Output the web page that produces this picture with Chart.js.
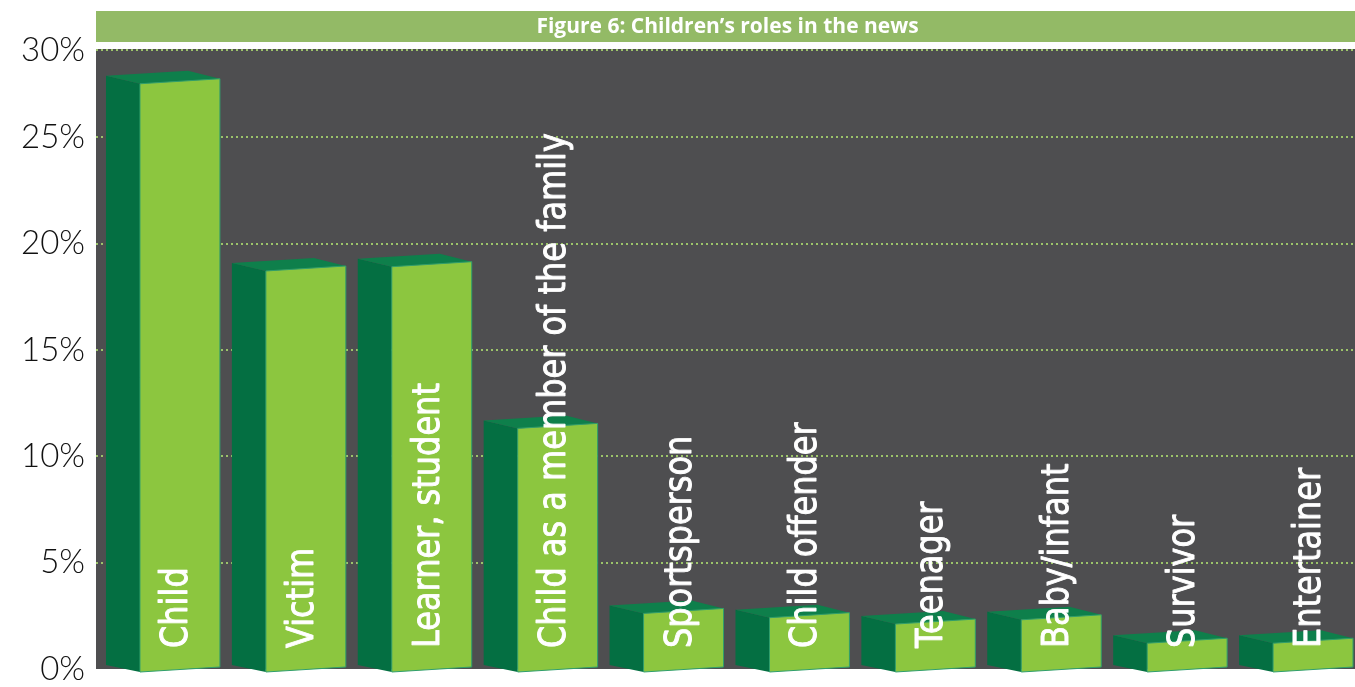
<!DOCTYPE html>
<html lang="en">
<head>
    <meta charset="UTF-8">
    <title>Children's roles in the news</title>
    <style>
        html, body {
            margin: 0;
            padding: 0;
            background: #fff;
        }
        .container {
            position: relative;
            width: 1355px;
            height: 687px;
        }
    </style>
</head>
<body>
    <div class="container">
        <canvas id="roles-chart"></canvas>
    </div>
    <script src="https://cdn.jsdelivr.net/npm/chart.js"></script>

    <script>
        // ROLES DATA (share of stories, %)

        const roleLabels = [
            "Child",
            "Victim",
            "Learner, student",
            "Child as a member of the family",
            "Sportsperson",
            "Child offender",
            "Teenager",
            "Baby/infant",
            "Survivor",
            "Entertainer",
        ]

        const roleShares = [27.7, 18.9, 19.1, 11.5, 2.8, 2.6, 2.3, 2.5, 1.4, 1.4]

        // y axis: the top line of the panel carries the 30% label
        const tickValues = [0, 5, 10, 15, 20, 25, 29.1]
        const tickLabels = ["0%", "5%", "10%", "15%", "20%", "25%", "30%"]
        const axisMax = 29.1

        const chartTitle = "Figure 6: Children\u2019s roles in the news"
    </script>

    <script>
        const colors = {
            titleBar: '#93ba66',
            panel: '#4e4e50',
            grid: '#9cc46a',
            front: '#8cc63f',
            side: '#046f42',
            top: '#0e7f4b',
            edge: '#2f9f6c',
        }

        // panel background and title strip
        const backdrop = {
            id: 'backdrop',
            beforeDraw(chart) {
                const { ctx, chartArea } = chart;
                ctx.save();
                ctx.fillStyle = '#fff';
                ctx.fillRect(0, 0, chart.width, chart.height);

                ctx.fillStyle = colors.titleBar;
                ctx.fillRect(chartArea.left, 11, chartArea.right - chartArea.left, 31);

                ctx.fillStyle = '#fff';
                ctx.font = '700 21px "Open Sans"';
                ctx.textAlign = 'center';
                ctx.textBaseline = 'middle';
                ctx.fillText(chartTitle, (chartArea.left + chartArea.right) / 2 + 2, 27);

                ctx.fillStyle = colors.panel;
                ctx.fillRect(chartArea.left, 49, chartArea.right - chartArea.left, chartArea.bottom - 49);
                ctx.restore();
            }
        }

        // draws each bar as a box: dark side, top lid and light front, plus the label
        const boxBars = {
            id: 'boxBars',
            afterDatasetsDraw(chart) {
                const { ctx } = chart;
                const meta = chart.getDatasetMeta(0);
                const shift = 21;      // front face sits right of the category centre
                const slant = 2.5;     // front edges tilt up to the right
                const dx = -34, dy = -8; // depth of the box

                meta.data.forEach((bar, i) => {
                    const { x, y, base, width } = bar.getProps(['x', 'y', 'base', 'width'], true);
                    const l = x + shift - width / 2;
                    const r = x + shift + width / 2;
                    const top = y + 1.5, bot = base + 1.5;

                    const tl = [l, top + slant], tr = [r, top - slant];
                    const bl = [l, bot + slant], br = [r, bot - slant];

                    ctx.save();
                    // side face
                    ctx.fillStyle = colors.side;
                    ctx.beginPath();
                    ctx.moveTo(tl[0] + dx, tl[1] + dy);
                    ctx.lineTo(tl[0], tl[1]);
                    ctx.lineTo(bl[0], bl[1]);
                    ctx.lineTo(bl[0] + dx, bl[1] + dy + 1);
                    ctx.closePath();
                    ctx.fill();

                    // top face
                    ctx.fillStyle = colors.top;
                    ctx.beginPath();
                    ctx.moveTo(tl[0] + dx, tl[1] + dy);
                    ctx.lineTo(tr[0] + dx + 2, tr[1] + dy);
                    ctx.lineTo(tr[0], tr[1]);
                    ctx.lineTo(tl[0], tl[1]);
                    ctx.closePath();
                    ctx.fill();

                    // front face
                    ctx.fillStyle = colors.front;
                    ctx.strokeStyle = colors.edge;
                    ctx.lineWidth = 1;
                    ctx.beginPath();
                    ctx.moveTo(tl[0], tl[1]);
                    ctx.lineTo(tr[0], tr[1]);
                    ctx.lineTo(br[0], br[1]);
                    ctx.lineTo(bl[0], bl[1]);
                    ctx.closePath();
                    ctx.fill();
                    ctx.stroke();

                    // label, reading upwards, glyphs a little taller than the face
                    ctx.translate(x + shift + 7, 648);
                    ctx.rotate(-Math.PI / 2);
                    ctx.scale(1, 1.15);
                    ctx.fillStyle = '#fff';
                    ctx.strokeStyle = '#fff';
                    ctx.lineWidth = 0.8;
                    ctx.lineJoin = 'round';
                    ctx.font = '32px "DejaVu Sans"';
                    ctx.textAlign = 'left';
                    ctx.textBaseline = 'alphabetic';
                    ctx.fillText(roleLabels[i], 0, 0);
                    ctx.strokeText(roleLabels[i], 0, 0);
                    ctx.restore();
                });
            }
        }

        const config = {
            type: 'bar',
            data: {
                labels: roleLabels,
                datasets: [
                    {
                        label: 'Share of stories',
                        data: roleShares,
                        backgroundColor: 'rgba(0,0,0,0)',
                        borderWidth: 0,
                        barPercentage: 0.635,
                        categoryPercentage: 1,
                    }
                ]
            },
            options: {
                responsive: true,
                maintainAspectRatio: false,
                animation: false,
                layout: {
                    padding: { top: 50, bottom: 18, left: 0, right: 0 }
                },
                scales: {
                    x: {
                        display: false,
                    },
                    y: {
                        min: 0,
                        max: axisMax,
                        afterBuildTicks: (scale) => {
                            scale.ticks = tickValues.map(v => ({ value: v }));
                        },
                        afterFit: (scale) => {
                            scale.width = 96;
                            scale.paddingTop = 0;
                            scale.paddingBottom = 0;
                        },
                        border: { display: false, dash: [2, 3] },
                        grid: {
                            color: (c) => c.tick && c.tick.value === 0 ? 'rgba(0,0,0,0)' : colors.grid,
                            lineWidth: 2,
                            drawTicks: false,
                        },
                        ticks: {
                            padding: 11,
                            color: '#111',
                            font: { family: 'Lato', size: 33, weight: 300, lineHeight: 1 },
                            callback: (value) => tickLabels[tickValues.indexOf(value)],
                        }
                    }
                },
                plugins: {
                    legend: { display: false },
                    title: { display: false },
                    tooltip: { enabled: false },
                },
            },
            plugins: [backdrop, boxBars]
        };

        new Chart(document.getElementById('roles-chart'), config);
    </script>
</body>
</html>
